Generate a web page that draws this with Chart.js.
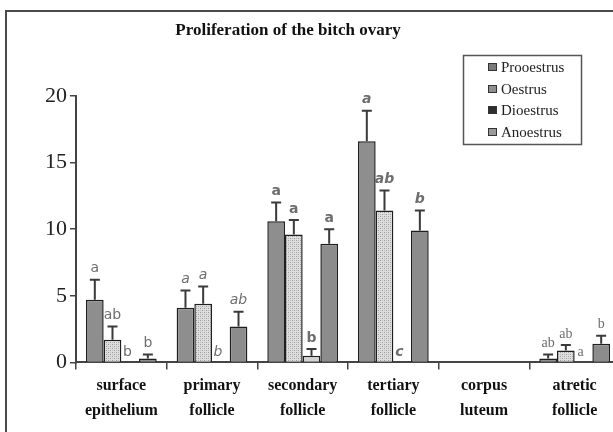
<!DOCTYPE html>
<html lang="en">
<head>
    <meta charset="UTF-8">
    <title>Proliferation of the bitch ovary</title>
    <script src="https://cdn.jsdelivr.net/npm/chart.js@4.4.1/dist/chart.umd.min.js"></script>
    <style>
        body {
            margin: 0;
            width: 613px;
            height: 432px;
            overflow: hidden;
            background: #fff;
            position: relative;
        }
        .frame {
            position: absolute;
            left: 5px;
            top: 10px;
            width: 700px;
            height: 500px;
            border-left: 2px solid #4a4a4a;
            border-top: 2px solid #4a4a4a;
        }
        canvas {
            position: absolute;
            left: 0;
            top: 0;
        }
    </style>
</head>
<body>
    <div class="frame"></div>
    <canvas id="chart" width="630" height="432"></canvas>

    <script>
        // categories and series
        const categories = [
            ['surface', 'epithelium'],
            ['primary', 'follicle'],
            ['secondary', 'follicle'],
            ['tertiary', 'follicle'],
            ['corpus', 'luteum'],
            ['atretic', 'follicle']
        ];
        const seriesNames = ['Prooestrus', 'Oestrus', 'Dioestrus', 'Anoestrus'];
        const yTicks = [0, 5, 10, 15, 20];

        // mean values
        const prooestrus = [4.7, 4.1, 10.6, 16.6, 0, 0.3];
        const oestrus = [1.7, 4.4, 9.6, 11.4, 0, 0.9];
        const dioestrus = [0, 0, 0.5, 0, 0, 0];
        const anoestrus = [0.3, 2.7, 8.9, 9.9, 0, 1.4];

        // upper end of the error bars (null = no bar)
        const prooestrusErr = [6.2, 5.4, 12.0, 18.9, null, 0.6];
        const oestrusErr = [2.7, 5.7, 10.7, 12.9, null, 1.3];
        const dioestrusErr = [null, null, 1.0, null, null, null];
        const anoestrusErr = [0.6, 3.8, 10.0, 11.4, null, 2.0];

        // significance letters
        const prooestrusLetters = ['a', 'a', 'a', 'a', '', 'ab'];
        const oestrusLetters = ['ab', 'a', 'a', 'ab', '', 'ab'];
        const dioestrusLetters = ['b', 'b', 'b', 'c', '', 'a'];
        const anoestrusLetters = ['b', 'ab', 'a', 'b', '', 'b'];

        // letter font per category
        const letterFonts = [
            '14px "DejaVu Sans"',
            'italic 14px "DejaVu Sans"',
            'bold 14px "DejaVu Sans"',
            'italic bold 14px "DejaVu Sans"',
            '14px "DejaVu Sans"',
            '14px "Liberation Serif"'
        ];

        function dotPattern() {
            const c = document.createElement('canvas');
            c.width = 4; c.height = 4;
            const g = c.getContext('2d');
            g.fillStyle = '#dedede';
            g.fillRect(0, 0, 4, 4);
            g.fillStyle = '#9a9a9a';
            g.fillRect(0, 0, 1, 1);
            g.fillRect(2, 2, 1, 1);
            g.fillStyle = '#bdbdbd';
            g.fillRect(2, 0, 1, 1);
            g.fillRect(0, 2, 1, 1);
            return g.createPattern(c, 'repeat');
        }

        const barColors = ['#8e8e8e', dotPattern(), '#d2d2d2', '#8c8c8c'];
        const legendColors = ['#7a7a7a', '#8f8f8f', '#2e2e2e', '#9a9a9a'];
        const errs = [prooestrusErr, oestrusErr, dioestrusErr, anoestrusErr];
        const letters = [prooestrusLetters, oestrusLetters, dioestrusLetters, anoestrusLetters];

        const extras = {
            id: 'extras',
            afterDatasetsDraw(chart) {
                const ctx = chart.ctx;
                const y = chart.scales.y;
                ctx.save();
                chart.data.datasets.forEach((ds, d) => {
                    const meta = chart.getDatasetMeta(d);
                    meta.data.forEach((bar, i) => {
                        const top = errs[d][i];
                        let ly;
                        if (top !== null) {
                            const yt = y.getPixelForValue(top);
                            ctx.strokeStyle = '#3a3a3a';
                            ctx.lineWidth = 2;
                            ctx.beginPath();
                            ctx.moveTo(bar.x, bar.y);
                            ctx.lineTo(bar.x, yt);
                            ctx.moveTo(bar.x - 5, yt);
                            ctx.lineTo(bar.x + 5, yt);
                            ctx.stroke();
                            ly = yt - 4;
                        } else {
                            ly = y.getPixelForValue(0) - 3;
                        }
                        const txt = letters[d][i];
                        if (txt) {
                            ctx.font = letterFonts[i];
                            ctx.fillStyle = '#6e6e6e';
                            ctx.textAlign = 'center';
                            ctx.textBaseline = 'bottom';
                            const lx = top === null ? bar.x - bar.width / 2 + 6 : bar.x;
                            ctx.fillText(txt, lx, ly);
                        }
                    });
                });

                // title
                ctx.font = 'bold 17px "Liberation Serif"';
                ctx.fillStyle = '#111';
                ctx.textAlign = 'center';
                ctx.textBaseline = 'middle';
                ctx.fillText('Proliferation of the bitch ovary', 288, 31);

                // legend box
                ctx.strokeStyle = '#555';
                ctx.lineWidth = 1.5;
                ctx.strokeRect(463.5, 55.5, 118, 89);
                const rows = [67, 89, 110, 132];
                seriesNames.forEach((name, k) => {
                    ctx.fillStyle = legendColors[k];
                    ctx.fillRect(488, rows[k] - 4, 9, 8);
                    ctx.strokeStyle = '#333';
                    ctx.lineWidth = 1;
                    ctx.strokeRect(488.5, rows[k] - 3.5, 8, 7);
                    ctx.font = '15px "Liberation Serif"';
                    ctx.fillStyle = '#222';
                    ctx.textAlign = 'left';
                    ctx.textBaseline = 'middle';
                    ctx.fillText(name, 501, rows[k] + 1);
                });
                ctx.restore();
            }
        };

        const seriesValues = [prooestrus, oestrus, dioestrus, anoestrus];

        new Chart(document.getElementById('chart'), {
            type: 'bar',
            data: {
                labels: categories,
                datasets: seriesNames.map((name, k) => ({
                    label: name,
                    data: seriesValues[k],
                    backgroundColor: barColors[k],
                    borderColor: '#1e1e1e',
                    borderWidth: 1.5,
                    borderSkipped: 'bottom',
                    categoryPercentage: 0.78,
                    barPercentage: 1
                }))
            },
            options: {
                responsive: false,
                animation: false,
                layout: { padding: { left: 42, right: 10, top: 96, bottom: 5 } },
                plugins: {
                    legend: { display: false },
                    title: { display: false },
                    tooltip: { enabled: false }
                },
                scales: {
                    x: {
                        grid: {
                            offset: true,
                            drawOnChartArea: false,
                            drawTicks: true,
                            tickLength: 7,
                            color: '#444',
                            lineWidth: 1.5
                        },
                        border: { display: true, color: '#444', width: 2 },
                        ticks: {
                            color: '#111',
                            padding: 4,
                            maxRotation: 0,
                            font: { family: 'Liberation Serif', size: 16, weight: 'bold', lineHeight: 1.55 }
                        }
                    },
                    y: {
                        min: 0,
                        max: 20,
                        afterBuildTicks: (axis) => {
                            axis.ticks = yTicks.map(v => ({ value: v }));
                        },
                        grid: {
                            drawOnChartArea: false,
                            drawTicks: true,
                            tickLength: 6,
                            color: '#444',
                            lineWidth: 1.5
                        },
                        border: { display: true, color: '#444', width: 2 },
                        ticks: {
                            color: '#222',
                            padding: 3,
                            font: { family: 'Liberation Serif', size: 22 }
                        }
                    }
                }
            },
            plugins: [extras]
        });
    </script>
</body>
</html>
